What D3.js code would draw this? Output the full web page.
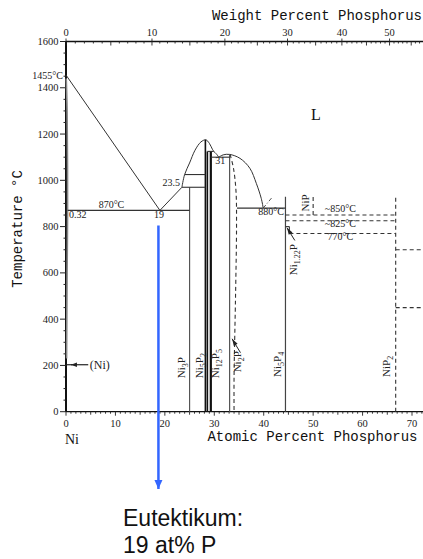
<!DOCTYPE html>
<html><head><meta charset="utf-8">
<script src="https://cdn.jsdelivr.net/npm/d3@7"></script>
<style>html,body{margin:0;padding:0;background:#fff;}svg{display:block;}</style>
</head><body>
<svg id="c" width="423" height="559"></svg>
<script>
// ---- data ----
const yTicks = [0,200,400,600,800,1000,1200,1400,1600];
const xTicks = [0,10,20,30,40,50,60,70];
const wtTicks = [0,10,20,30,40,50];
const liqNi = [[0,1455],[19,870],[23.45,970]];
const liqDome = [[23.45,970],[24.0,1025],[25.0,1075],[26.1,1130],[27.3,1166],[28.3,1175],[29.0,1160],[29.6,1135],[29.9,1125]];
const liqSmall = [[29.9,1125],[30.5,1112],[30.9,1100]];
const liqNi2P = [[30.9,1100],[31.8,1110],[33.1,1112],[35.2,1095],[37.2,1052],[38.5,987],[39.5,922],[39.9,880]];
const liqDashDot = [[39.9,880],[41.8,929]];
const niSolid = [[0.05,1440],[0.22,1300],[0.32,870],[0.22,600],[0.12,230]];
const ni2pBound = [[33.2,1112],[33.9,1050],[34.4,950],[34.5,800],[34.3,500],[34.0,150],[34.0,0]];
// vertical phase lines: [at%, Tbottom, Ttop, weight, colour, dashed]
const verticals = [
  [25.0,0,970,1.2,"#555",false],
  [28.2,0,1175,1.6,"#111",false],
  [28.6,0,1125,1.6,"#111",false],
  [29.3,0,1125,2.2,"#111",false],
  [33.1,0,1112,1.2,"#555",false],
  [44.4,0,929,1.2,"#444",false],
  [45.2,770,800,1.2,"#444",false],
  [50.0,850,935,1.1,"#333",true],
  [66.7,0,935,1.1,"#333",true]
];
// horizontal lines: [at%1, at%2, T, dashed]
const horizontals = [
  [0.32,25.0,870,false],
  [23.45,28.2,970,false],
  [24.0,28.2,1025,false],
  [28.6,29.9,1125,false],
  [29.3,33.1,1100,false],
  [34.6,44.4,880,false],
  [44.4,45.2,800,false],
  [44.4,66.7,850,true],
  [44.4,66.7,825,true],
  [45.2,66.7,770,true],
  [66.7,72.5,700,true],
  [66.7,72.5,450,true]
];
// temperature / composition notes: [text, at%, T, anchor]
const notes = [
  ["870°C",9.2,882,"middle"],
  ["0.32",0.6,838,"start"],
  ["19",18.8,838,"middle"],
  ["23.5",21.3,975,"middle"],
  ["31",31.2,1070,"middle"],
  ["880°C",41.5,850,"middle"],
  ["~850°C",55.5,862,"middle"],
  ["~825°C",55.5,800,"middle"],
  ["770°C",55.5,740,"middle"]
];
// rotated phase labels: [main, sub, main2, sub2, at% baseline, T bottom]
const phaseLabels = [
  ["Ni","3","P","",24.0,145],
  ["Ni","5","P","2",27.7,145],
  ["Ni","12","P","5",31.0,145],
  ["Ni","2","P","",35.4,170],
  ["Ni","5","P","4",43.5,150],
  ["Ni","","P","2",65.6,150],
  ["Ni","","P","",49.2,865],
  ["Ni","1.22","P","",46.7,590]
];

// ---- scales ----
const svg = d3.select("#c");
const x = d3.scaleLinear().domain([0,70]).range([66,412]);
const y = d3.scaleLinear().domain([0,1600]).range([411.7,41.5]);
const wt2at = w => { const a=w/30.974, b=(100-w)/58.693; return 100*a/(a+b); };
const xR = 423;
const line = d3.line().x(d=>x(d[0])).y(d=>y(d[1]));
const curve = d3.line().x(d=>x(d[0])).y(d=>y(d[1])).curve(d3.curveCatmullRom.alpha(0.5));
const g = svg.append("g");
const serif = "'Liberation Serif','DejaVu Serif',serif";
const mono = "'Liberation Mono','DejaVu Sans Mono',monospace";

// ---- axes ----
g.append("line").attr("x1",x(0)).attr("x2",xR).attr("y1",y(0)).attr("y2",y(0)).attr("stroke","#111").attr("stroke-width",1.3);
g.append("line").attr("x1",x(0)).attr("x2",xR).attr("y1",y(1600)).attr("y2",y(1600)).attr("stroke","#111").attr("stroke-width",1.3);
g.append("line").attr("x1",x(0)).attr("x2",x(0)).attr("y1",y(0)).attr("y2",y(1600)).attr("stroke","#111").attr("stroke-width",2);

// y ticks
d3.range(0,1601,50).forEach(v=>{
  const major = v%200===0;
  g.append("line").attr("x1",x(0)).attr("x2",x(0)-(major?6:2.5)).attr("y1",y(v)).attr("y2",y(v)).attr("stroke","#222").attr("stroke-width",1);
});
yTicks.forEach(v=>{
  g.append("text").attr("x",58.5).attr("y",y(v)+3.5).attr("text-anchor","end")
   .attr("font-family",serif).attr("font-size",10.5).attr("fill","#222").text(v);
});
// bottom ticks
d3.range(0,73,1).forEach(v=>{
  const len = v%10===0?4:(v%5===0?3:2);
  g.append("line").attr("x1",x(v)).attr("x2",x(v)).attr("y1",y(0)).attr("y2",y(0)+len).attr("stroke","#222").attr("stroke-width",0.9);
});
xTicks.forEach(v=>{
  g.append("text").attr("x",x(v)).attr("y",426.5).attr("text-anchor","middle")
   .attr("font-family",serif).attr("font-size",10.5).attr("fill","#222").text(v);
});
// top ticks (weight percent)
d3.range(0,61,1).forEach(v=>{
  const px = x(wt2at(v)); if(px>xR) return;
  const len = v%5===0?4:2;
  g.append("line").attr("x1",px).attr("x2",px).attr("y1",y(1600)).attr("y2",y(1600)+len).attr("stroke","#222").attr("stroke-width",0.9);
  if(v%10===0) g.append("line").attr("x1",px).attr("x2",px).attr("y1",y(1600)).attr("y2",y(1600)-3).attr("stroke","#222").attr("stroke-width",0.9);
});
wtTicks.forEach(v=>{
  g.append("text").attr("x",x(wt2at(v))).attr("y",35.5).attr("text-anchor","middle")
   .attr("font-family",serif).attr("font-size",10.5).attr("fill","#222").text(v);
});

// titles
g.append("text").attr("x",317).attr("y",19.5).attr("text-anchor","middle").attr("font-family",mono).attr("font-size",14).attr("fill","#111").text("Weight Percent Phosphorus");
g.append("text").attr("x",312.5).attr("y",441).attr("text-anchor","middle").attr("font-family",mono).attr("font-size",14).attr("fill","#111").text("Atomic Percent Phosphorus");
g.append("text").attr("transform","translate(22,229) rotate(-90)").attr("text-anchor","middle").attr("font-family",mono).attr("font-size",14).attr("fill","#111").text("Temperature °C");
g.append("text").attr("x",x(0)-1).attr("y",444).attr("font-family",serif).attr("font-size",14).attr("fill","#111").text("Ni");
g.append("text").attr("x",316).attr("y",120).attr("text-anchor","middle").attr("font-family",serif).attr("font-size",16).attr("fill","#111").text("L");
g.append("text").attr("x",63).attr("y",78.5).attr("text-anchor","end").attr("font-family",serif).attr("font-size",10).attr("fill","#222").text("1455°C");

// ---- phase boundaries ----
const st = (sel,w,c,dash)=>sel.attr("fill","none").attr("stroke",c).attr("stroke-width",w).attr("stroke-dasharray",dash||null);
st(g.append("path").attr("d",line(liqNi)),1,"#333");
st(g.append("path").attr("d",curve(liqDome)),1,"#333");
st(g.append("path").attr("d",curve(liqSmall)),1,"#333");
st(g.append("path").attr("d",curve(liqNi2P)),1,"#333");
st(g.append("path").attr("d",line(liqDashDot)),0.9,"#444","4,2,1,2");
st(g.append("path").attr("d",curve(niSolid)),1.6,"#888");
st(g.append("path").attr("d",curve(ni2pBound)),1.1,"#333","4,3");
verticals.forEach(v=>{
  st(g.append("line").attr("x1",x(v[0])).attr("x2",x(v[0])).attr("y1",y(v[1])).attr("y2",y(v[2])),v[3],v[4],v[5]?"4,3":null);
});
horizontals.forEach(h=>{
  st(g.append("line").attr("x1",x(h[0])).attr("x2",Math.min(x(h[1]),xR)).attr("y1",y(h[2])).attr("y2",y(h[2])),1.1,"#333",h[3]?"4,3":null);
});

// notes
notes.forEach(n=>{
  g.append("text").attr("x",x(n[1])).attr("y",y(n[2])).attr("text-anchor",n[3])
   .attr("font-family",serif).attr("font-size",10).attr("fill","#222").text(n[0]);
});

// phase labels
phaseLabels.forEach(p=>{
  const t = g.append("text").attr("transform",`translate(${x(p[4])},${y(p[5])}) rotate(-90)`)
    .attr("font-family",serif).attr("font-size",11).attr("fill","#222");
  t.append("tspan").text(p[0]);
  if(p[1]) t.append("tspan").attr("font-size",8).attr("dy",3).text(p[1]);
  t.append("tspan").attr("dy",p[1]?-3:0).text(p[2]);
  if(p[3]) t.append("tspan").attr("font-size",8).attr("dy",3).text(p[3]);
});

// small arrows
function arrow(x1,y1,x2,y2,col,w,hl,hw){
  g.append("line").attr("x1",x1).attr("y1",y1).attr("x2",x2).attr("y2",y2).attr("stroke",col).attr("stroke-width",w);
  const a=Math.atan2(y2-y1,x2-x1);
  const bx=x2-hl*Math.cos(a), by=y2-hl*Math.sin(a);
  const px=-Math.sin(a)*hw, py=Math.cos(a)*hw;
  g.append("path").attr("d",`M${x2},${y2}L${bx+px},${by+py}L${bx-px},${by-py}Z`).attr("fill",col);
}
arrow(x(35.3),y(255),x(33.6),y(315),"#222",1,7,2.2);
arrow(x(46.3),y(740),x(44.7),y(795),"#222",1,7,2.2);
arrow(x(4.5),y(203),x(1.0),y(203),"#222",1.2,6,2.2);
g.append("line").attr("x1",x(0)).attr("x2",x(1.2)).attr("y1",y(203)).attr("y2",y(203)).attr("stroke","#222").attr("stroke-width",1.2);
g.append("text").attr("x",x(4.8)).attr("y",y(203)+4).attr("font-family",serif).attr("font-size",12).attr("fill","#222").text("(Ni)");

// ---- eutectic annotation ----
arrow(x(18.7),y(805),x(18.7),489,"#3366ff",2.5,9,4);
g.append("text").attr("x",123).attr("y",526).attr("font-family","'Liberation Sans',Arial,sans-serif").attr("font-size",23).attr("fill","#111").text("Eutektikum:");
g.append("text").attr("x",123).attr("y",553).attr("font-family","'Liberation Sans',Arial,sans-serif").attr("font-size",23).attr("fill","#111").text("19 at% P");
</script>
</body></html>
